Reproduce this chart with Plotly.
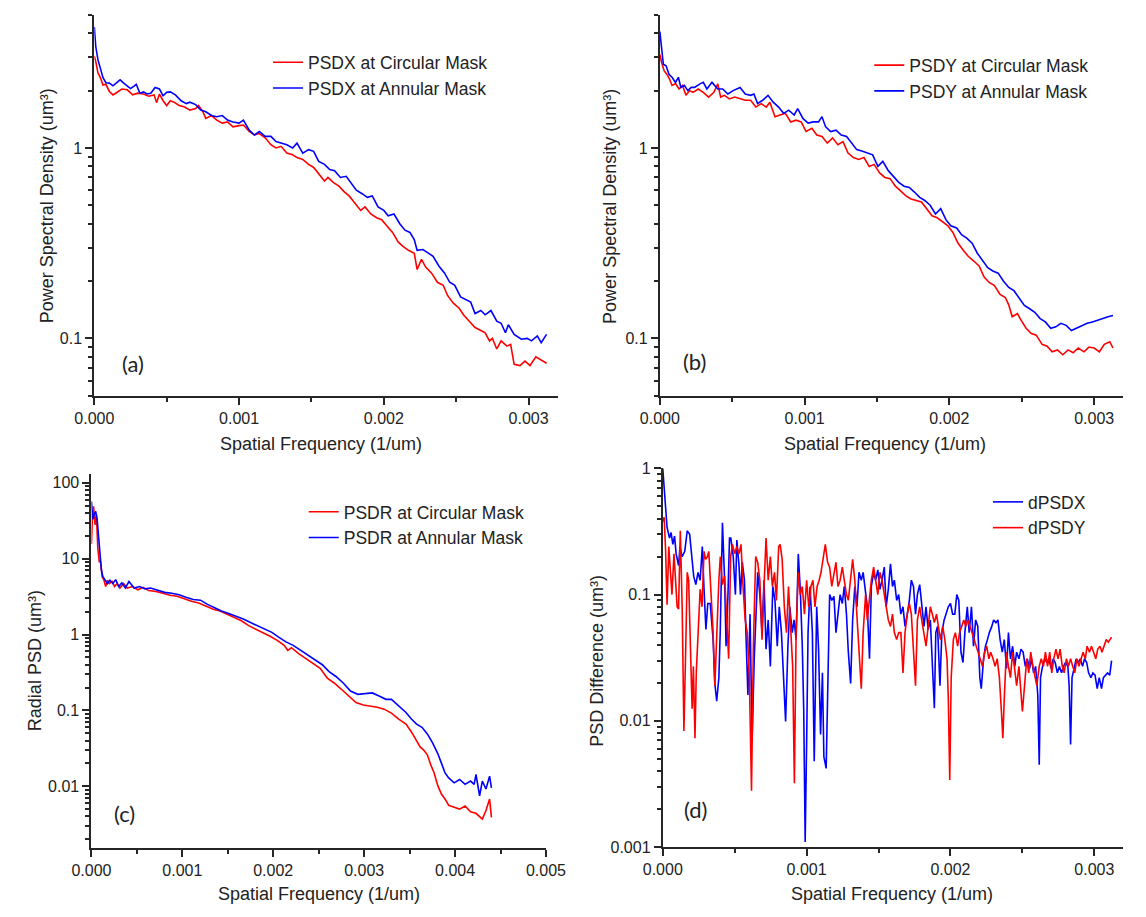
import math
import plotly.graph_objects as go

W, H = 1146, 917
RED = "#FF0000"
BLUE = "#0000FF"
AX = "#262626"
FONT = "Arial, Liberation Sans, sans-serif"

# ---------------- data (spatial frequency in units of 1e-3 1/um) ----------------
# Panel (a) PSDX
a_circ_f = [0, 0.01, 0.025, 0.042, 0.06, 0.08, 0.104, 0.129, 0.153, 0.19, 0.228, 0.265, 0.30, 0.34, 0.376, 0.413, 0.43,
            0.45, 0.475, 0.50, 0.525, 0.55, 0.587, 0.624, 0.66, 0.70, 0.72, 0.75, 0.77, 0.81, 0.846, 0.884, 0.92, 0.958,
            1.0, 1.03, 1.07, 1.106, 1.14, 1.18, 1.22, 1.255, 1.29, 1.33, 1.37, 1.40, 1.44, 1.48, 1.515, 1.55, 1.59,
            1.614, 1.65, 1.69, 1.725, 1.76, 1.80, 1.84, 1.87, 1.91, 1.95, 1.985, 2.02, 2.06, 2.10, 2.13, 2.17, 2.21,
            2.23, 2.26, 2.29, 2.33, 2.37, 2.41, 2.44, 2.48, 2.52, 2.55, 2.59, 2.63, 2.67, 2.70, 2.73, 2.75, 2.78,
            2.81, 2.85, 2.876, 2.90, 2.94, 2.975, 3.01, 3.05, 3.087, 3.124]
a_circ_v = [3.03, 2.85, 2.48, 2.34, 2.14, 2.16, 1.98, 1.90, 1.95, 2.04, 2.02, 1.90, 1.94, 1.92, 1.87, 1.90, 1.73,
            1.92, 1.77, 1.67, 1.77, 1.74, 1.67, 1.64, 1.58, 1.61, 1.67, 1.55, 1.43, 1.48, 1.40, 1.35, 1.37, 1.29,
            1.31, 1.32, 1.22, 1.17, 1.19, 1.13, 1.04, 1.0, 1.02, 0.94, 0.92, 0.89, 0.87, 0.82, 0.79, 0.73, 0.67,
            0.70, 0.66, 0.63, 0.59, 0.56, 0.51, 0.47, 0.49, 0.45, 0.43, 0.42, 0.39, 0.36, 0.32, 0.305, 0.29, 0.28,
            0.23, 0.26, 0.236, 0.22, 0.197, 0.19, 0.168, 0.153, 0.144, 0.133, 0.123, 0.114, 0.11, 0.107, 0.097, 0.10,
            0.088, 0.097, 0.091, 0.093, 0.073, 0.072, 0.076, 0.072, 0.08, 0.077, 0.074]
a_ann_f = [0, 0.01, 0.025, 0.042, 0.06, 0.08, 0.104, 0.129, 0.153, 0.178, 0.203, 0.228, 0.25, 0.277, 0.29, 0.314,
           0.34, 0.364, 0.39, 0.42, 0.45, 0.475, 0.50, 0.525, 0.56, 0.60, 0.636, 0.66, 0.70, 0.735, 0.77, 0.81,
           0.846, 0.884, 0.92, 0.958, 1.0, 1.03, 1.07, 1.106, 1.14, 1.18, 1.22, 1.255, 1.29, 1.33, 1.37, 1.40,
           1.44, 1.48, 1.515, 1.55, 1.59, 1.626, 1.66, 1.70, 1.74, 1.775, 1.81, 1.85, 1.886, 1.92, 1.96, 2.0,
           2.03, 2.07, 2.11, 2.146, 2.18, 2.21, 2.23, 2.27, 2.31, 2.34, 2.38, 2.42, 2.455, 2.49, 2.53, 2.57, 2.60,
           2.63, 2.67, 2.70, 2.74, 2.78, 2.81, 2.84, 2.86, 2.90, 2.95, 2.99, 3.02, 3.06, 3.087, 3.124]
a_ann_v = [4.32, 3.41, 2.91, 2.58, 2.34, 2.2, 2.19, 2.12, 2.2, 2.28, 2.19, 2.12, 2.05, 2.12, 2.16, 1.94,
           1.97, 1.92, 1.94, 2.08, 2.04, 1.88, 1.96, 1.97, 1.90, 1.77, 1.71, 1.74, 1.69, 1.58, 1.55, 1.48,
           1.46, 1.48, 1.40, 1.37, 1.35, 1.40, 1.24, 1.17, 1.22, 1.15, 1.15, 1.08, 1.06, 1.04, 1.0, 1.06,
           0.94, 0.98, 0.96, 0.85, 0.82, 0.77, 0.76, 0.70, 0.71, 0.65, 0.60, 0.575, 0.55, 0.56, 0.49, 0.47,
           0.44, 0.45, 0.40, 0.37, 0.36, 0.33, 0.29, 0.293, 0.28, 0.27, 0.24, 0.22, 0.197, 0.19, 0.165, 0.16, 0.155,
           0.135, 0.14, 0.133, 0.14, 0.123, 0.12, 0.107, 0.118, 0.105, 0.099, 0.10, 0.097, 0.103, 0.095, 0.105]

# Panel (b) PSDY
b_circ_f = [0, 0.012, 0.03, 0.048, 0.067, 0.084, 0.108, 0.133, 0.157, 0.18, 0.205, 0.229, 0.265, 0.30, 0.337, 0.373,
            0.40, 0.42, 0.446, 0.48, 0.518, 0.554, 0.59, 0.627, 0.663, 0.70, 0.735, 0.76, 0.795, 0.83, 0.867, 0.904,
            0.94, 0.976, 1.01, 1.05, 1.084, 1.12, 1.157, 1.193, 1.23, 1.265, 1.30, 1.337, 1.373, 1.41, 1.446, 1.48,
            1.518, 1.554, 1.59, 1.627, 1.66, 1.70, 1.735, 1.77, 1.807, 1.843, 1.88, 1.916, 1.95, 1.99, 2.024, 2.06,
            2.096, 2.13, 2.17, 2.205, 2.24, 2.277, 2.31, 2.35, 2.386, 2.41, 2.434, 2.47, 2.494, 2.53, 2.566, 2.60,
            2.64, 2.675, 2.71, 2.747, 2.783, 2.82, 2.855, 2.89, 2.93, 2.964, 3.0, 3.036, 3.07, 3.108, 3.13]
b_circ_v = [3.10, 2.81, 2.54, 2.44, 2.30, 2.13, 2.18, 2.04, 2.13, 1.89, 2.0, 1.96, 2.04, 1.96, 1.85, 1.96,
            2.17, 1.85, 1.89, 1.81, 1.85, 1.81, 1.78, 1.78, 1.64, 1.71, 1.64, 1.74, 1.46, 1.49, 1.52, 1.37,
            1.40, 1.37, 1.22, 1.27, 1.17, 1.15, 1.06, 1.13, 1.04, 1.08, 0.94, 0.89, 0.87, 0.89, 0.80, 0.82,
            0.74, 0.70, 0.69, 0.63, 0.60, 0.56, 0.54, 0.53, 0.52, 0.48, 0.44, 0.43, 0.41, 0.39, 0.36, 0.316,
            0.29, 0.27, 0.254, 0.24, 0.21, 0.196, 0.19, 0.17, 0.164, 0.15, 0.13, 0.135, 0.125, 0.113, 0.106, 0.104,
            0.093, 0.091, 0.085, 0.087, 0.082, 0.087, 0.084, 0.089, 0.085, 0.090, 0.089, 0.085, 0.093, 0.096, 0.089]
b_ann_f = [0, 0.01, 0.024, 0.043, 0.063, 0.084, 0.108, 0.128, 0.145, 0.169, 0.193, 0.217, 0.24, 0.277, 0.30, 0.325,
           0.36, 0.40, 0.434, 0.47, 0.506, 0.554, 0.59, 0.627, 0.65, 0.675, 0.71, 0.747, 0.783, 0.82, 0.855, 0.89,
           0.928, 0.952, 0.988, 1.024, 1.06, 1.096, 1.12, 1.145, 1.18, 1.217, 1.253, 1.29, 1.325, 1.36, 1.40,
           1.434, 1.47, 1.506, 1.54, 1.578, 1.614, 1.65, 1.687, 1.723, 1.76, 1.795, 1.83, 1.867, 1.904, 1.94,
           1.976, 2.01, 2.05, 2.084, 2.12, 2.157, 2.193, 2.23, 2.265, 2.30, 2.337, 2.373, 2.41, 2.446, 2.48, 2.518,
           2.554, 2.59, 2.627, 2.663, 2.70, 2.735, 2.77, 2.807, 2.843, 2.88, 2.916, 2.952, 2.988, 3.024, 3.06,
           3.096, 3.13]
b_ann_v = [4.09, 3.36, 2.75, 2.70, 2.44, 2.35, 2.21, 2.35, 2.08, 2.13, 2.0, 2.08, 2.08, 2.17, 2.21, 2.04,
           2.21, 2.04, 2.04, 1.92, 2.0, 2.08, 1.92, 1.89, 1.92, 1.71, 1.78, 1.89, 1.74, 1.64, 1.52, 1.58,
           1.49, 1.61, 1.43, 1.35, 1.37, 1.37, 1.46, 1.29, 1.22, 1.24, 1.17, 1.15, 1.06, 0.98, 0.96,
           0.94, 0.92, 0.80, 0.85, 0.76, 0.71, 0.66, 0.63, 0.62, 0.585, 0.55, 0.53, 0.50, 0.45, 0.48,
           0.42, 0.39, 0.38, 0.35, 0.336, 0.316, 0.28, 0.254, 0.235, 0.226, 0.22, 0.20, 0.185, 0.178, 0.164, 0.149,
           0.143, 0.137, 0.127, 0.122, 0.113, 0.115, 0.12, 0.117, 0.11, 0.113, 0.117, 0.12, 0.122, 0.124, 0.127,
           0.13, 0.132]

# Panel (c) radial PSD
c_circ_f = [0, 0.012, 0.024, 0.04, 0.055, 0.07, 0.086, 0.10, 0.118, 0.138, 0.157, 0.177, 0.197, 0.228, 0.255,
            0.283, 0.314, 0.354, 0.393, 0.452, 0.51, 0.57, 0.63, 0.71, 0.786, 0.865, 0.943, 1.02, 1.10, 1.18, 1.26,
            1.34, 1.415, 1.49, 1.57, 1.65, 1.73, 1.81, 1.886, 1.965, 2.044, 2.12, 2.16, 2.20, 2.28, 2.36, 2.44,
            2.516, 2.594, 2.67, 2.75, 2.83, 2.91, 2.99, 3.066, 3.145, 3.22, 3.30, 3.38, 3.46, 3.52, 3.577, 3.616,
            3.655, 3.695, 3.734, 3.77, 3.81, 3.85, 3.89, 3.93, 3.99, 4.05, 4.11, 4.17, 4.23, 4.30, 4.34, 4.36,
            4.38, 4.40]
c_circ_v = [15.6, 38, 49, 28, 38, 14, 9.1, 9.1, 5.8, 5.2, 4.3, 5.2, 4.7, 5.0, 4.3, 4.7, 4.1, 4.7, 4.1, 4.3, 3.9,
            4.2, 3.8, 3.7, 3.5, 3.3, 3.2, 2.95, 2.75, 2.6, 2.37, 2.15, 2.04, 1.85, 1.67, 1.52, 1.31, 1.18, 1.05,
            0.95, 0.84, 0.72, 0.62, 0.67, 0.56, 0.485, 0.42, 0.36, 0.267, 0.23, 0.19, 0.155, 0.127, 0.118, 0.115,
            0.11, 0.104, 0.092, 0.077, 0.066, 0.052, 0.040, 0.033, 0.030, 0.026, 0.019, 0.015, 0.0102, 0.0079,
            0.0068, 0.0056, 0.0053, 0.0050, 0.0055, 0.0046, 0.0044, 0.0037, 0.0048, 0.0058, 0.0068, 0.0039]
c_ann_f = [0, 0.016, 0.03, 0.047, 0.063, 0.086, 0.11, 0.126, 0.15, 0.177, 0.204, 0.236, 0.267, 0.30, 0.334, 0.373,
           0.413, 0.47, 0.53, 0.59, 0.65, 0.727, 0.806, 0.884, 0.963, 1.04, 1.12, 1.2, 1.276, 1.355, 1.43, 1.51,
           1.59, 1.67, 1.75, 1.83, 1.91, 1.985, 2.063, 2.14, 2.22, 2.30, 2.38, 2.46, 2.54, 2.614, 2.69, 2.77, 2.85,
           2.93, 3.0, 3.09, 3.164, 3.24, 3.30, 3.34, 3.40, 3.46, 3.52, 3.577, 3.636, 3.695, 3.754, 3.81, 3.85,
           3.89, 3.93, 3.99, 4.05, 4.11, 4.17, 4.21, 4.23, 4.27, 4.30, 4.34, 4.38, 4.40]
c_ann_v = [57, 33, 38, 42, 33, 15.6, 7.1, 5.8, 5.2, 4.7, 5.2, 4.7, 5.3, 4.3, 4.8, 4.1, 5.0, 4.1, 4.3, 4.0, 4.1,
           3.8, 3.6, 3.5, 3.35, 3.1, 2.9, 2.84, 2.5, 2.25, 2.04, 1.9, 1.76, 1.6, 1.44, 1.31, 1.18, 1.07, 0.92,
           0.80, 0.72, 0.62, 0.525, 0.46, 0.40, 0.325, 0.28, 0.23, 0.18, 0.163, 0.166, 0.17, 0.155, 0.14, 0.14,
           0.127, 0.11, 0.094, 0.077, 0.066, 0.06, 0.049, 0.037, 0.027, 0.0202, 0.015, 0.0129, 0.0111, 0.0123,
           0.0106, 0.0117, 0.0106, 0.0143, 0.0075, 0.0117, 0.0092, 0.0136, 0.0095]

# Panel (d) PSD differences
d_x_f = [0, 0.016, 0.03, 0.047, 0.058, 0.07, 0.082, 0.093, 0.11, 0.12, 0.135, 0.153, 0.17, 0.187, 0.20, 0.215,
         0.23, 0.245, 0.26, 0.275, 0.287, 0.30, 0.313, 0.33, 0.35, 0.362, 0.375, 0.39, 0.40, 0.415, 0.43, 0.44,
         0.453, 0.464, 0.473, 0.49, 0.505, 0.515, 0.53, 0.54, 0.553, 0.568, 0.578, 0.592, 0.607, 0.621, 0.636,
         0.65, 0.66, 0.675, 0.69, 0.704, 0.718, 0.733, 0.748, 0.765, 0.78, 0.796, 0.81, 0.825, 0.84, 0.854, 0.87,
         0.883, 0.90, 0.913, 0.927, 0.942, 0.956, 0.97, 0.98, 0.99, 1.0, 1.01, 1.024, 1.04, 1.053, 1.07, 1.083,
         1.097, 1.11, 1.12, 1.136, 1.146, 1.16, 1.175, 1.19, 1.204, 1.218, 1.233, 1.248, 1.262, 1.277, 1.29,
         1.306, 1.32, 1.335, 1.35, 1.364, 1.38, 1.393, 1.41, 1.422, 1.437, 1.45, 1.466, 1.48, 1.495, 1.51, 1.524,
         1.54, 1.553, 1.568, 1.583, 1.597, 1.61, 1.626, 1.64, 1.655, 1.67, 1.684, 1.70, 1.714, 1.728, 1.743,
         1.757, 1.77, 1.786, 1.80, 1.816, 1.83, 1.845, 1.86, 1.874, 1.888, 1.898, 1.91, 1.927, 1.94, 1.956, 1.97,
         1.985, 2.0, 2.015, 2.03, 2.044, 2.058, 2.073, 2.087, 2.1, 2.117, 2.13, 2.146, 2.16, 2.175, 2.19, 2.204,
         2.214, 2.23, 2.243, 2.257, 2.27, 2.287, 2.3, 2.316, 2.33, 2.345, 2.36, 2.374, 2.39, 2.403, 2.417, 2.432,
         2.447, 2.46, 2.476, 2.49, 2.505, 2.52, 2.534, 2.55, 2.563, 2.578, 2.592, 2.607, 2.617, 2.626, 2.64,
         2.655, 2.67, 2.684, 2.7, 2.714, 2.728, 2.743, 2.757, 2.772, 2.786, 2.8, 2.816, 2.825, 2.835, 2.845,
         2.86, 2.874, 2.888, 2.903, 2.918, 2.932, 2.947, 2.96, 2.976, 2.99, 3.005, 3.02, 3.034, 3.05, 3.063,
         3.078, 3.092, 3.107, 3.12]
d_x_v = [1.0, 0.58, 0.34, 0.28, 0.31, 0.25, 0.29, 0.21, 0.17, 0.24, 0.2, 0.22, 0.32, 0.30, 0.2, 0.14,
         0.12, 0.15, 0.13, 0.24, 0.11, 0.053, 0.085, 0.085, 0.044, 0.0198, 0.0143, 0.022, 0.053, 0.37, 0.13, 0.039,
         0.097, 0.28, 0.28, 0.2, 0.1, 0.27, 0.17, 0.1, 0.18, 0.13, 0.05, 0.016, 0.07, 0.0068, 0.031,
         0.09, 0.15, 0.1, 0.05, 0.13, 0.037, 0.063, 0.027, 0.116, 0.09, 0.039, 0.08, 0.05, 0.019, 0.0099, 0.039,
         0.08, 0.05, 0.063, 0.044, 0.21, 0.11, 0.039, 0.012, 0.0011, 0.0065, 0.05, 0.116, 0.05, 0.0048, 0.08, 0.037,
         0.0078, 0.024, 0.0052, 0.0042, 0.0133, 0.1, 0.09, 0.097, 0.05, 0.067, 0.1, 0.085, 0.116, 0.07, 0.035,
         0.0198, 0.063, 0.116, 0.08, 0.15, 0.13, 0.15, 0.1, 0.08, 0.031, 0.116, 0.15, 0.13, 0.157, 0.11, 0.13,
         0.165, 0.08, 0.11, 0.175, 0.116, 0.13, 0.09, 0.1, 0.07, 0.08, 0.056, 0.07, 0.09, 0.13, 0.116,
         0.07, 0.1, 0.12, 0.085, 0.056, 0.08, 0.053, 0.063, 0.031, 0.0126, 0.05, 0.056, 0.019, 0.05, 0.063, 0.07,
         0.08, 0.085, 0.07, 0.07, 0.1, 0.09, 0.035, 0.029, 0.05, 0.08, 0.05, 0.08, 0.039, 0.063, 0.056, 0.022,
         0.018, 0.031, 0.039, 0.044, 0.05, 0.056, 0.063, 0.06, 0.063, 0.044, 0.035, 0.044, 0.026, 0.05, 0.031, 0.039,
         0.027, 0.035, 0.031, 0.037, 0.035, 0.027, 0.031, 0.026, 0.031, 0.024, 0.027, 0.016, 0.0045, 0.022, 0.027,
         0.031, 0.029, 0.031, 0.026, 0.031, 0.029, 0.024, 0.027, 0.024, 0.027, 0.029, 0.027, 0.019, 0.0065, 0.022,
         0.027, 0.031, 0.029, 0.031, 0.027, 0.031, 0.029, 0.024, 0.022, 0.024, 0.023, 0.018, 0.022, 0.018, 0.022,
         0.023, 0.024, 0.023, 0.03]
d_y_f = [0, 0.01, 0.02, 0.03, 0.042, 0.053, 0.064, 0.078, 0.09, 0.1, 0.11, 0.122, 0.135, 0.147, 0.16, 0.17,
         0.18, 0.193, 0.204, 0.213, 0.224, 0.233, 0.247, 0.26, 0.273, 0.287, 0.298, 0.31, 0.32, 0.335, 0.35,
         0.362, 0.375, 0.39, 0.40, 0.415, 0.43, 0.447, 0.458, 0.472, 0.485, 0.5, 0.515, 0.53, 0.544, 0.558,
         0.573, 0.587, 0.602, 0.617, 0.63, 0.646, 0.66, 0.675, 0.69, 0.704, 0.718, 0.733, 0.748, 0.762, 0.777,
         0.79, 0.806, 0.816, 0.83, 0.845, 0.86, 0.874, 0.888, 0.903, 0.915, 0.927, 0.942, 0.956, 0.97, 0.985,
         1.0, 1.015, 1.03, 1.044, 1.058, 1.073, 1.087, 1.1, 1.117, 1.13, 1.146, 1.16, 1.175, 1.19, 1.204, 1.218,
         1.233, 1.248, 1.262, 1.277, 1.29, 1.306, 1.32, 1.335, 1.35, 1.364, 1.38, 1.393, 1.41, 1.422, 1.437,
         1.45, 1.466, 1.48, 1.495, 1.51, 1.524, 1.54, 1.553, 1.568, 1.583, 1.597, 1.61, 1.626, 1.64, 1.655,
         1.67, 1.684, 1.7, 1.714, 1.728, 1.743, 1.757, 1.77, 1.786, 1.8, 1.816, 1.83, 1.845, 1.86, 1.874, 1.888,
         1.903, 1.917, 1.93, 1.946, 1.961, 1.976, 1.985, 1.995, 2.005, 2.02, 2.034, 2.05, 2.063, 2.078, 2.092,
         2.107, 2.12, 2.136, 2.15, 2.165, 2.18, 2.194, 2.21, 2.223, 2.238, 2.252, 2.267, 2.28, 2.296, 2.31,
         2.325, 2.34, 2.354, 2.364, 2.374, 2.388, 2.403, 2.417, 2.432, 2.447, 2.46, 2.476, 2.49, 2.5, 2.515,
         2.53, 2.544, 2.558, 2.573, 2.587, 2.6, 2.617, 2.631, 2.646, 2.66, 2.675, 2.69, 2.704, 2.718, 2.733,
         2.748, 2.762, 2.777, 2.79, 2.806, 2.82, 2.835, 2.85, 2.864, 2.879, 2.893, 2.908, 2.922, 2.937, 2.95,
         2.966, 2.98, 2.995, 3.01, 3.024, 3.04, 3.053, 3.068, 3.083, 3.097, 3.112, 3.12]
d_y_v = [0.38, 0.41, 0.22, 0.083, 0.24, 0.15, 0.1, 0.21, 0.13, 0.08, 0.077, 0.32, 0.08, 0.0083, 0.039, 0.15,
         0.13, 0.039, 0.0125, 0.027, 0.0073, 0.024, 0.063, 0.11, 0.08, 0.22, 0.19, 0.2, 0.22, 0.097, 0.05,
         0.019, 0.053, 0.13, 0.2, 0.12, 0.14, 0.05, 0.031, 0.2, 0.25, 0.21, 0.24, 0.21, 0.25, 0.116,
         0.063, 0.05, 0.022, 0.0028, 0.039, 0.2, 0.18, 0.13, 0.044, 0.116, 0.28, 0.13, 0.2, 0.116, 0.15,
         0.09, 0.24, 0.25, 0.19, 0.08, 0.05, 0.116, 0.063, 0.027, 0.0032, 0.05, 0.15, 0.1, 0.116, 0.07,
         0.13, 0.08, 0.116, 0.13, 0.08, 0.116, 0.13, 0.15, 0.2, 0.25, 0.18, 0.165, 0.116, 0.15, 0.18, 0.116,
         0.13, 0.165, 0.13, 0.1, 0.09, 0.13, 0.19, 0.13, 0.063, 0.035, 0.018, 0.05, 0.1, 0.063, 0.09,
         0.13, 0.165, 0.13, 0.1, 0.15, 0.13, 0.1, 0.08, 0.063, 0.056, 0.07, 0.05, 0.044, 0.05, 0.05,
         0.024, 0.05, 0.07, 0.085, 0.07, 0.039, 0.019, 0.063, 0.08, 0.063, 0.05, 0.039, 0.056, 0.08, 0.07, 0.06,
         0.07, 0.056, 0.044, 0.056, 0.044, 0.031, 0.015, 0.0034, 0.022, 0.044, 0.05, 0.039, 0.05, 0.056, 0.063,
         0.056, 0.063, 0.056, 0.05, 0.044, 0.039, 0.035, 0.031, 0.027, 0.035, 0.039, 0.031, 0.035, 0.031, 0.027,
         0.031, 0.022, 0.0119, 0.0073, 0.015, 0.035, 0.027, 0.022, 0.035, 0.024, 0.019, 0.027, 0.015, 0.0119, 0.019,
         0.031, 0.024, 0.035, 0.027, 0.022, 0.019, 0.027, 0.031, 0.027, 0.035, 0.027, 0.035, 0.024, 0.031, 0.037,
         0.031, 0.037, 0.027, 0.024, 0.031, 0.027, 0.031, 0.027, 0.024, 0.031, 0.027, 0.031, 0.035, 0.031, 0.039,
         0.035, 0.039, 0.035, 0.031, 0.037, 0.039, 0.035, 0.039, 0.044, 0.042, 0.044, 0.046]

FREQ_UNIT = 1e-3  # stored values are in units of 1e-3 1/um


def scale(v):
    return [f * FREQ_UNIT for f in v]


def px_x(p):
    return p / W


def px_y(p):
    return 1 - p / H


fig = go.Figure()

panels = [
    ("x", "y", [(a_circ_f, a_circ_v, RED, "PSDX at Circular Mask"),
                (a_ann_f, a_ann_v, BLUE, "PSDX at Annular Mask")], "legend"),
    ("x2", "y2", [(b_circ_f, b_circ_v, RED, "PSDY at Circular Mask"),
                  (b_ann_f, b_ann_v, BLUE, "PSDY at Annular Mask")], "legend2"),
    ("x3", "y3", [(c_circ_f, c_circ_v, RED, "PSDR at Circular Mask"),
                  (c_ann_f, c_ann_v, BLUE, "PSDR at Annular Mask")], "legend3"),
    ("x4", "y4", [(d_x_f, d_x_v, BLUE, "dPSDX"),
                  (d_y_f, d_y_v, RED, "dPSDY")], "legend4"),
]

for xa, ya, traces, lg in panels:
    for fx, vy, col, label in traces:
        fig.add_trace(go.Scatter(x=scale(fx), y=vy, mode="lines", name=label,
                                 line=dict(color=col, width=1.6), xaxis=xa, yaxis=ya,
                                 legend=lg))


def minor_vals(lo_exp, hi_exp):
    vals = []
    for e in range(lo_exp, hi_exp + 1):
        for m in range(2, 10):
            vals.append(m * 10 ** e)
    return vals


TICK_FONT = dict(family=FONT, size=16, color="#222")
TITLE_FONT = dict(family=FONT, size=18, color="#222")


def xaxis_cfg(dom, rng, anchor):
    return dict(domain=dom, range=rng, anchor=anchor, showgrid=False, zeroline=False,
                showline=True, linecolor=AX, linewidth=2, ticks="outside", ticklen=7,
                tickwidth=1.5, tickcolor=AX, dtick=0.001, tick0=0, tickformat=".3f",
                tickfont=TICK_FONT,
                minor=dict(ticks="outside", ticklen=4, tickwidth=1.5, tickcolor=AX, dtick=0.0005, tick0=0))


def yaxis_cfg(dom, rng, anchor, major, labels, minor):
    return dict(domain=dom, range=rng, anchor=anchor, type="log", showgrid=False, zeroline=False,
                showline=True, linecolor=AX, linewidth=2, ticks="outside", ticklen=7,
                tickwidth=1.5, tickcolor=AX, tickmode="array", tickvals=major, ticktext=labels,
                tickfont=TICK_FONT,
                minor=dict(ticks="outside", ticklen=4, tickwidth=1.5, tickcolor=AX,
                           tickmode="array", tickvals=minor))


fig.update_layout(
    width=W, height=H, margin=dict(l=0, r=0, t=0, b=0),
    paper_bgcolor="white", plot_bgcolor="white",
    font=dict(family=FONT, color="#222"),
    xaxis=xaxis_cfg([px_x(77), px_x(557)], [0, 0.0032], "y"),
    yaxis=yaxis_cfg([px_y(395), px_y(7)], [math.log10(0.05), math.log10(5)], "x",
                    [0.1, 1], ["0.1", "1"], minor_vals(-2, 0)),
    xaxis2=xaxis_cfg([px_x(663), px_x(1143)], [0, 0.0032], "y2"),
    yaxis2=yaxis_cfg([px_y(395), px_y(7)], [math.log10(0.05), math.log10(5)], "x2",
                     [0.1, 1], ["0.1", "1"], minor_vals(-2, 0)),
    xaxis3=xaxis_cfg([px_x(74), px_x(545)], [0, 0.005], "y3"),
    yaxis3=yaxis_cfg([px_y(856), px_y(475)], [math.log10(0.00153), math.log10(130)], "x3",
                     [0.01, 0.1, 1, 10, 100], ["0.01", "0.1", "1", "10", "100"], minor_vals(-3, 2)),
    xaxis4=xaxis_cfg([px_x(666), px_x(1143)], [0, 0.0032], "y4"),
    yaxis4=yaxis_cfg([px_y(855), px_y(469)], [-3, 0], "x4",
                     [0.001, 0.01, 0.1, 1], ["0.001", "0.01", "0.1", "1"], minor_vals(-3, -1)),
)

leg_common = dict(bgcolor="rgba(0,0,0,0)", borderwidth=0, xanchor="left", yanchor="top",
                  font=dict(family=FONT, size=17.5, color="#222"), tracegroupgap=0)
fig.update_layout(
    legend=dict(x=px_x(257), y=px_y(37), **leg_common),
    legend2=dict(x=px_x(880), y=px_y(40), **leg_common),
    legend3=dict(x=px_x(294), y=px_y(495), **leg_common),
    legend4=dict(x=px_x(1003), y=px_y(485), **leg_common),
)

annotations = []
for cx, cy in [(312, 444), (896, 444), (310, 903), (904, 903)]:
    annotations.append(dict(text="Spatial Frequency (1/um)", x=px_x(cx), y=px_y(cy), xref="paper", yref="paper",
                            showarrow=False, xanchor="center", yanchor="middle", font=TITLE_FONT))
for txt, cx, cy in [("Power Spectral Density (um³)", 28, 202),
                    ("Power Spectral Density (um³)", 612, 202),
                    ("Radial PSD (um³)", 15, 665),
                    ("PSD Difference (um³)", 598, 665)]:
    annotations.append(dict(text=txt, x=px_x(cx), y=px_y(cy), xref="paper", yref="paper", textangle=-90,
                            showarrow=False, xanchor="center", yanchor="middle", font=TITLE_FONT))
for txt, cx, cy in [("(a)", 117, 362), ("(b)", 699, 360), ("(c)", 108, 821), ("(d)", 700, 817)]:
    annotations.append(dict(text=txt, x=px_x(cx), y=px_y(cy), xref="paper", yref="paper",
                            showarrow=False, xanchor="center", yanchor="middle",
                            font=dict(family="Lato, Open Sans, sans-serif", size=22, color="#222")))
fig.update_layout(annotations=annotations)

fig.write_html("out.html")
